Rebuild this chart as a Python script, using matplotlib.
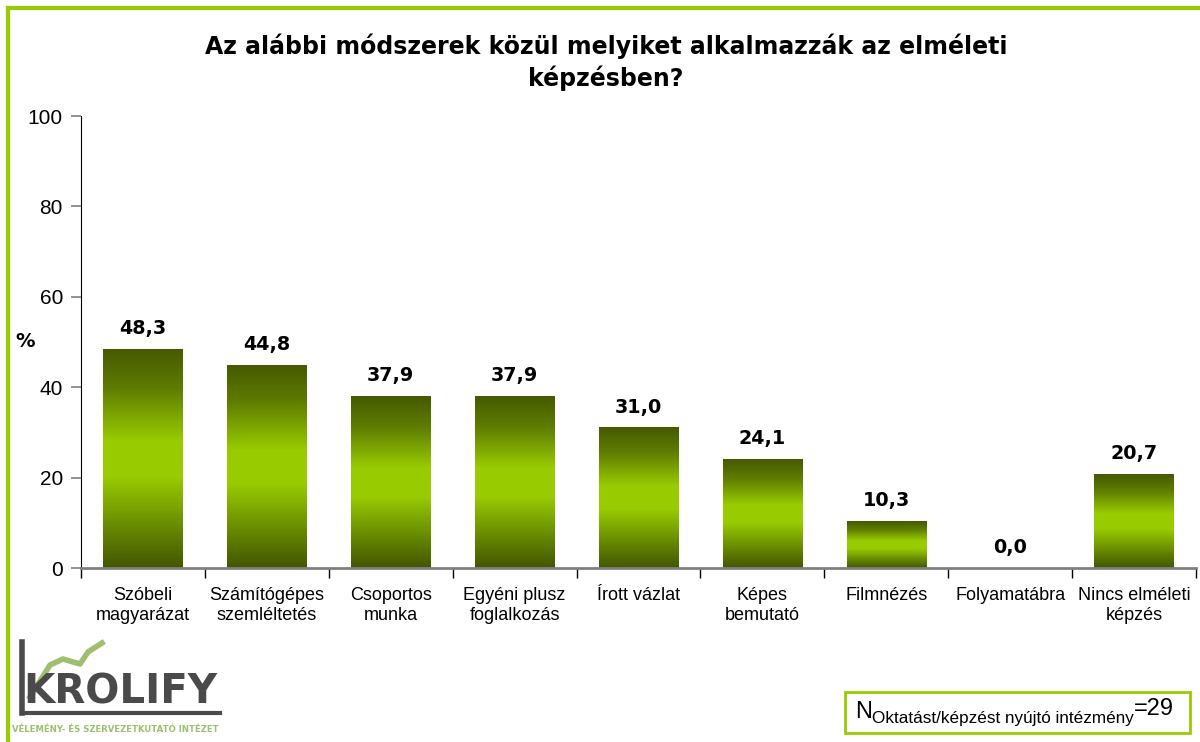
import numpy as np
import matplotlib.pyplot as plt
from matplotlib.colors import LinearSegmentedColormap
from matplotlib.patches import Rectangle
from matplotlib.lines import Line2D

# Adatok
categories = ["Szóbeli\nmagyarázat", "Számítógépes\nszemléltetés", "Csoportos\nmunka",
              "Egyéni plusz\nfoglalkozás", "Írott vázlat", "Képes\nbemutató",
              "Filmnézés", "Folyamatábra", "Nincs elméleti\nképzés"]
values = [48.3, 44.8, 37.9, 37.9, 31.0, 24.1, 10.3, 0.0, 20.7]
yticks = [0, 20, 40, 60, 80, 100]

W, H = 1200, 742
fig = plt.figure(figsize=(12, 7.42), dpi=100)
ax = fig.add_axes([81 / W, 1 - 568 / H, 1115 / W, 452 / H])

# sötét - világos - sötét zöld színátmenet az oszlopokon
cmap = LinearSegmentedColormap.from_list(
    "bar", [(0.0, "#465a00"), (0.18, "#5f7d00"), (0.42, "#99cc00"),
            (0.58, "#99cc00"), (0.82, "#668800"), (1.0, "#435600")])
grad = np.linspace(0, 1, 256).reshape(-1, 1)

x = np.arange(len(values))
bars = ax.bar(x, values, width=0.64, color="none", edgecolor="none")
for b, v in zip(bars, values):
    if b.get_height() > 0:
        ax.imshow(grad, cmap=cmap, aspect="auto", origin="upper",
                  interpolation="bilinear",
                  extent=[b.get_x(), b.get_x() + b.get_width(), 0, b.get_height()],
                  zorder=2)
    ax.text(b.get_x() + b.get_width() / 2, v + 2.5, f"{v:.1f}".replace(".", ","),
            ha="center", va="bottom", fontsize=13.8, fontweight="bold",
            family="DejaVu Sans")

ax.set_xlim(-0.5, len(values) - 0.5)
ax.set_ylim(0, 100)
ax.set_yticks(yticks)
ax.set_yticklabels([str(t) for t in yticks], family="Liberation Sans", fontsize=15)
ax.tick_params(axis="y", direction="out", length=7, width=1.2, color="#808080", pad=6)

ax.set_xticks(x)
ax.set_xticklabels(categories, family="Liberation Sans", fontsize=13, linespacing=1.22)
ax.tick_params(axis="x", which="major", length=0, pad=14)
ax.set_xticks(np.arange(len(values) + 1) - 0.5, minor=True)
ax.tick_params(axis="x", which="minor", direction="out", length=7, width=1, color="black")

for s in ["top", "right"]:
    ax.spines[s].set_visible(False)
ax.spines["left"].set_color("black")
ax.spines["bottom"].set_color("#808080")
ax.spines["bottom"].set_linewidth(2)

fig.text(25 / W, 1 - 342 / H, "%", ha="center", va="center", fontsize=14,
         fontweight="bold", family="DejaVu Sans")

fig.text(606 / W, 1 - 62 / H,
         "Az alábbi módszerek közül melyiket alkalmazzák az elméleti\nképzésben?",
         ha="center", va="center", fontsize=17, fontweight="bold",
         family="DejaVu Sans", linespacing=1.3)

# zöld keret (felső és bal oldal)
fig.add_artist(Line2D([8 / W, 1], [1 - 8 / H, 1 - 8 / H], color="#99cc00", lw=3))
fig.add_artist(Line2D([8 / W, 8 / W], [0, 1 - 8 / H], color="#99cc00", lw=3))

# N doboz
fig.add_artist(Rectangle((845 / W, 1 - 733 / H), 345 / W, 41 / H, fill=False,
                         edgecolor="#99cc00", lw=2, transform=fig.transFigure))
renderer = fig.canvas.get_renderer()
t1 = fig.text(855 / W, 1 - 712 / H, "N", fontsize=17, family="Liberation Sans",
              va="center", ha="left")
x1 = fig.transFigure.inverted().transform(
    (t1.get_window_extent(renderer).x1, 0))[0]
t2 = fig.text(x1, 1 - 719 / H, "Oktatást/képzést nyújtó intézmény", fontsize=12.3,
              family="Liberation Sans", va="center", ha="left")
x2 = fig.transFigure.inverted().transform(
    (t2.get_window_extent(renderer).x1, 0))[0]
fig.text(x2, 1 - 709 / H, "=29", fontsize=17, family="Liberation Sans",
         va="center", ha="left")

# logó
fig.add_artist(Line2D([22 / W, 22 / W], [1 - 642 / H, 1 - 713 / H], color="#4a4a4a", lw=4))
fig.add_artist(Line2D([22 / W, 220 / W], [1 - 713 / H, 1 - 713 / H], color="#4a4a4a", lw=3))
lx = np.array([30, 50, 63, 80, 88, 102])
ly = np.array([697, 665, 659, 664, 652, 643])
fig.add_artist(Line2D(lx / W, 1 - ly / H, color="#9dbf6e", lw=4))
fig.text(23 / W, 1 - 692 / H, "KROLIFY", fontsize=29, family="DejaVu Sans",
         fontweight="bold", color="#4a4a4a", va="center", ha="left")
fig.text(12 / W, 1 - 729 / H, "VÉLEMÉNY- ÉS SZERVEZETKUTATÓ INTÉZET", fontsize=6.1,
         family="DejaVu Sans", fontweight="bold", color="#9dbf6e", va="center", ha="left")

fig.savefig("out.png", dpi=100)
